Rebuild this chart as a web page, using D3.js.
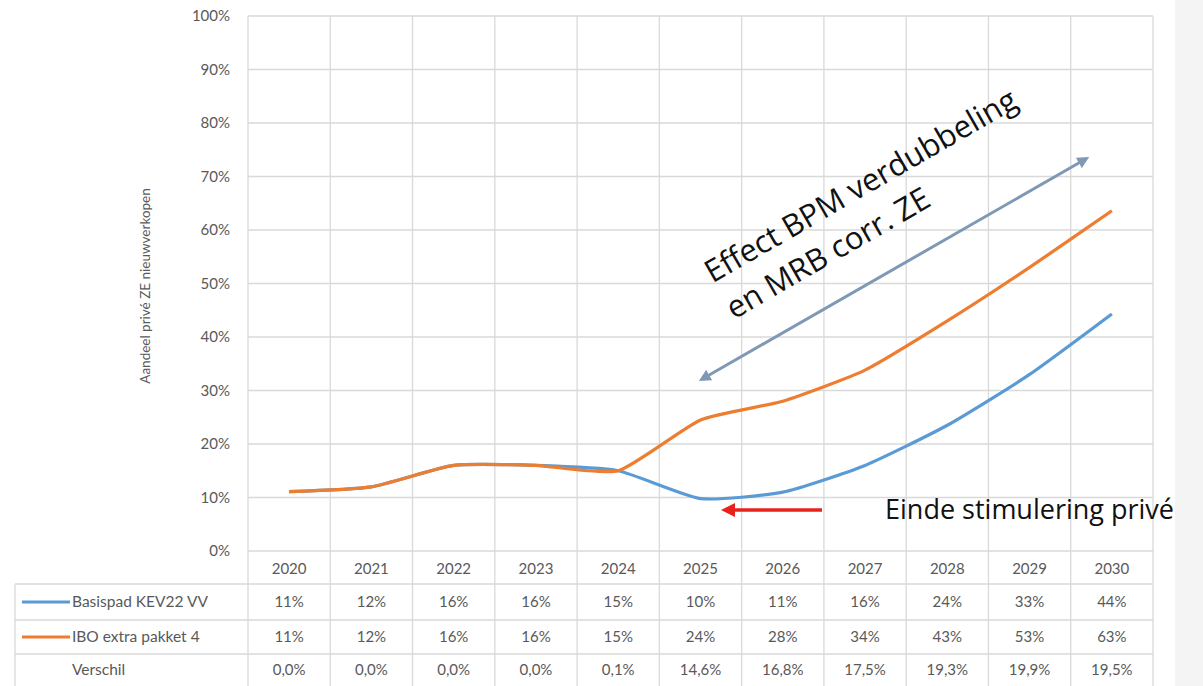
<!DOCTYPE html>
<html><head><meta charset="utf-8">
<script src="https://cdn.jsdelivr.net/npm/d3@7"></script>
<style>body{margin:0;background:#fff}svg{display:block}</style>
</head><body>
<svg id="c" width="1203" height="686"></svg>
<script>
const years = ["2020","2021","2022","2023","2024","2025","2026","2027","2028","2029","2030"];
const basispad = [0.111,0.120,0.160,0.160,0.150,0.098,0.110,0.160,0.235,0.330,0.443];
const ibo = [0.111,0.120,0.160,0.160,0.150,0.245,0.280,0.338,0.430,0.530,0.636];
const basispadLabels = ["11%","12%","16%","16%","15%","10%","11%","16%","24%","33%","44%"];
const iboLabels = ["11%","12%","16%","16%","15%","24%","28%","34%","43%","53%","63%"];
const verschilLabels = ["0,0%","0,0%","0,0%","0,0%","0,1%","14,6%","16,8%","17,5%","19,3%","19,9%","19,5%"];
const yTicks = [0,0.1,0.2,0.3,0.4,0.5,0.6,0.7,0.8,0.9,1.0];
const seriesNames = ["Basispad KEV22 VV","IBO extra pakket 4","Verschil"];

const svg = d3.select("#c");
const font = "Lato, 'Open Sans', sans-serif";
const gridC = "#d9d9d9", textC = "#595959";
const blue = "#5b9bd5", orange = "#ed7d31";

svg.append("rect").attr("x",1175).attr("y",0).attr("width",28).attr("height",686).attr("fill","#f4f4f4");

const x = d3.scaleBand().domain(years).range([248,1153]);
const y = d3.scaleLinear().domain([0,1]).range([551,16]);
const rowYs = [551,584,620,654,686];

svg.append("g").selectAll("line").data(yTicks).join("line")
  .attr("x1",248).attr("x2",1153).attr("y1",d=>y(d)).attr("y2",d=>y(d))
  .attr("stroke",gridC).attr("stroke-width",1.3);
const edges = years.map(d=>x(d)).concat([x.range()[1]]);
svg.append("g").selectAll("line").data(edges).join("line")
  .attr("x1",d=>d).attr("x2",d=>d).attr("y1",16).attr("y2",686)
  .attr("stroke",gridC).attr("stroke-width",1.3);
svg.append("g").selectAll("line").data(rowYs.slice(1,4)).join("line")
  .attr("x1",15).attr("x2",1153).attr("y1",d=>d).attr("y2",d=>d)
  .attr("stroke",gridC).attr("stroke-width",1.3);
svg.append("line").attr("x1",15).attr("x2",15).attr("y1",584).attr("y2",686).attr("stroke",gridC).attr("stroke-width",1.3);

const ya = svg.append("g").attr("transform","translate(238,0)")
  .call(d3.axisLeft(y).tickValues(yTicks).tickFormat(d3.format(".0%")).tickSize(0));
ya.select(".domain").remove();
ya.selectAll("text").attr("font-family",font).attr("font-size",15).attr("fill",textC).attr("dx",-5);

svg.append("text").attr("transform","translate(150,286) rotate(-90)")
  .attr("text-anchor","middle").attr("font-family",font).attr("font-size",13.5).attr("fill",textC)
  .text("Aandeel privé ZE nieuwverkopen");

const line = d3.line().x((d,i)=>x(years[i])+x.bandwidth()/2).y(d=>y(d)).curve(d3.curveCardinal.tension(0.45));
svg.append("path").datum(basispad).attr("d",line).attr("fill","none").attr("stroke",blue).attr("stroke-width",3.2);
svg.append("path").datum(ibo).attr("d",line).attr("fill","none").attr("stroke",orange).attr("stroke-width",3.2);

const cx = d => x(d)+x.bandwidth()/2;
const rowCenters = [(551+584)/2+1,(584+620)/2,(620+654)/2,(654+686)/2];
svg.append("g").selectAll("text").data(years).join("text")
  .attr("x",cx).attr("y",rowCenters[0]).attr("dy","0.35em").attr("text-anchor","middle")
  .attr("font-family",font).attr("font-size",15).attr("fill",textC).text(d=>d);
[basispadLabels,iboLabels,verschilLabels].forEach((arr,r)=>{
  svg.append("g").selectAll("text").data(arr).join("text")
    .attr("x",(d,i)=>cx(years[i])).attr("y",rowCenters[r+1]).attr("dy","0.35em").attr("text-anchor","middle")
    .attr("font-family",font).attr("font-size",15).attr("fill",textC).text(d=>d);
  svg.append("text").attr("x",72).attr("y",rowCenters[r+1]).attr("dy","0.35em")
    .attr("font-family",font).attr("font-size",15.5).attr("fill",textC).text(seriesNames[r]);
});
[[blue,rowCenters[1]],[orange,rowCenters[2]]].forEach(([c,yy])=>{
  svg.append("line").attr("x1",22).attr("x2",70).attr("y1",yy).attr("y2",yy).attr("stroke",c).attr("stroke-width",3.2);
});

const defs = svg.append("defs");
function marker(id,color){
  defs.append("marker").attr("id",id).attr("viewBox","0 0 10 10").attr("refX",5).attr("refY",5)
    .attr("markerWidth",4).attr("markerHeight",4).attr("orient","auto-start-reverse")
    .append("path").attr("d","M0,0 L10,5 L0,10 Z").attr("fill",color);
}
marker("ga","#7f99b5"); marker("ra","#e8231c");
svg.append("line").attr("x1",704).attr("y1",378).attr("x2",1084).attr("y2",160)
  .attr("stroke","#7f99b5").attr("stroke-width",3)
  .attr("marker-start","url(#ga)").attr("marker-end","url(#ga)");
svg.append("line").attr("x1",822).attr("y1",510).attr("x2",728).attr("y2",510)
  .attr("stroke","#e8231c").attr("stroke-width",3.5).attr("marker-end","url(#ra)");

const ann = svg.append("g").attr("transform","translate(866,195) rotate(-30)");
ann.append("text").attr("text-anchor","middle").attr("y",0)
  .attr("font-family","'Open Sans', sans-serif").attr("font-size",31).attr("fill","#111").text("Effect BPM verdubbeling");
ann.append("text").attr("text-anchor","middle").attr("x",-62).attr("y",42)
  .attr("font-family","'Open Sans', sans-serif").attr("font-size",31).attr("fill","#111").text("en MRB corr. ZE");

svg.append("text").attr("x",885).attr("y",519)
  .attr("font-family","'Open Sans', sans-serif").attr("font-size",27).attr("fill","#111").text("Einde stimulering privé");
</script>
</body></html>
